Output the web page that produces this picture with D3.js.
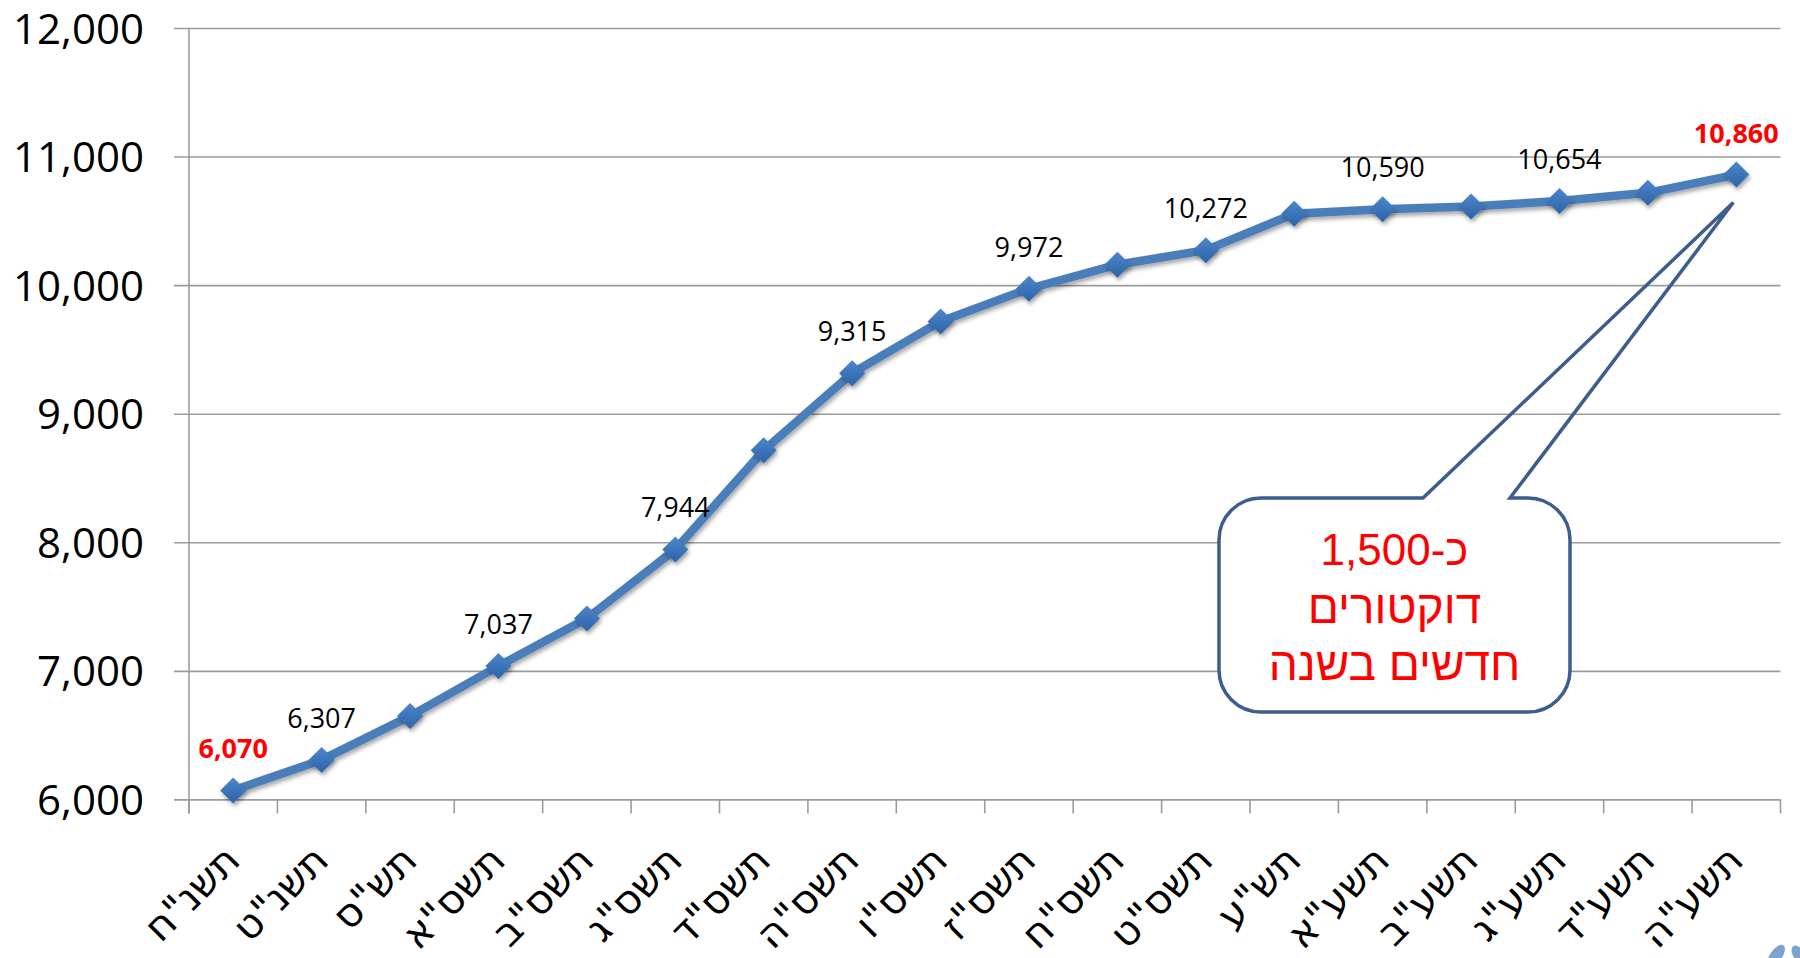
<!DOCTYPE html>
<html><head><meta charset="utf-8">
<script src="https://cdn.jsdelivr.net/npm/d3@7"></script>
<style>
html,body{margin:0;padding:0;background:#fff;}
svg{display:block;}
</style></head>
<body>
<svg id="chart" width="1800" height="958"></svg>
<script>
// ---- data ----
const categories = ['תשנ"ח','תשנ"ט','תש"ס','תשס"א','תשס"ב','תשס"ג','תשס"ד','תשס"ה','תשס"ו','תשס"ז','תשס"ח','תשס"ט','תש"ע','תשע"א','תשע"ב','תשע"ג','תשע"ד','תשע"ה'];
const values = [6070, 6307, 6648, 7037, 7407, 7944, 8715, 9315, 9718, 9972, 10159, 10272, 10555, 10590, 10611, 10654, 10718, 10860];
const labeledIdx = [0, 1, 3, 5, 7, 9, 11, 13, 15, 17];
const highlightIdx = [0, 17];
const yTicks = [6000, 7000, 8000, 9000, 10000, 11000, 12000];
const calloutLines = ['כ-1,500', 'דוקטורים', 'חדשים בשנה'];

(function () {
// ---- layout ----
const svg = d3.select('#chart');
const plotLeft = 189, plotRight = 1780.5, plotTop = 28, plotBottom = 799.4;
const x = d3.scaleBand().domain(categories).range([plotLeft, plotRight]).paddingInner(0).paddingOuter(0);
const y = d3.scaleLinear().domain([6000, 12000]).range([plotBottom, plotTop]);
const cx = d => x(d) + x.bandwidth() / 2;
const gridColor = '#9b9b9b';

const defs = svg.append('defs');
const grad = defs.append('linearGradient').attr('id', 'mk').attr('x1', 0).attr('y1', 0).attr('x2', 0).attr('y2', 1);
grad.append('stop').attr('offset', '0%').attr('stop-color', '#4d86cc');
grad.append('stop').attr('offset', '100%').attr('stop-color', '#2d63a8');
const sh = defs.append('filter').attr('id', 'sh').attr('x', '-50%').attr('y', '-50%').attr('width', '200%').attr('height', '200%');
sh.append('feDropShadow').attr('dx', 1.5).attr('dy', 3).attr('stdDeviation', 2).attr('flood-color', '#000').attr('flood-opacity', 0.35);

// gridlines + y labels
const yAxisG = svg.append('g').attr('transform', `translate(${plotLeft},0)`)
  .call(d3.axisLeft(y).tickValues(yTicks).tickSize(15).tickPadding(30).tickFormat(d3.format(',')));
yAxisG.select('.domain').remove();
yAxisG.selectAll('.tick line').attr('stroke', gridColor).attr('stroke-width', 1.6)
  .attr('x1', -15).attr('x2', plotRight - plotLeft);
yAxisG.selectAll('.tick text')
  .attr('fill', '#000').attr('font-family', '"Open Sans", sans-serif').attr('font-size', 42).attr('dy', '0.36em');

// y axis line
svg.append('line').attr('x1', plotLeft).attr('x2', plotLeft).attr('y1', y(12000)).attr('y2', plotBottom + 14)
  .attr('stroke', gridColor).attr('stroke-width', 1.6);

// x tick marks at band boundaries
const bounds = categories.map(c => x(c)).concat([x(categories[categories.length - 1]) + x.bandwidth()]);
svg.append('g').selectAll('line').data(bounds).join('line')
  .attr('x1', d => d).attr('x2', d => d).attr('y1', plotBottom).attr('y2', plotBottom + 14)
  .attr('stroke', gridColor).attr('stroke-width', 1.6);

// x labels
svg.append('g').selectAll('text').data(categories).join('text')
  .attr('transform', d => `translate(${cx(d) + 9},${plotBottom + 63}) rotate(-45)`)
  .attr('text-anchor', 'end')
  .attr('font-family', '"DejaVu Sans", sans-serif').attr('font-size', 40).attr('fill', '#000')
  .text(d => d);

// line
const line = d3.line().x((d, i) => cx(categories[i])).y(d => y(d));
svg.append('path').datum(values).attr('d', line)
  .attr('fill', 'none').attr('stroke', '#4a7ebb').attr('stroke-width', 8.5).attr('stroke-linejoin', 'round')
  .attr('filter', 'url(#sh)');

// markers
svg.append('g').selectAll('path').data(values).join('path')
  .attr('transform', (d, i) => `translate(${cx(categories[i])},${y(d)})`)
  .attr('d', 'M0,-13L13,0L0,13L-13,0Z')
  .attr('fill', 'url(#mk)').attr('filter', 'url(#sh)');

// data labels
svg.append('g').selectAll('text').data(labeledIdx).join('text')
  .attr('x', i => cx(categories[i])).attr('y', i => y(values[i]) - 32)
  .attr('text-anchor', 'middle')
  .attr('font-family', '"Open Sans", sans-serif').attr('font-size', 27)
  .attr('font-weight', i => highlightIdx.includes(i) ? 'bold' : 'normal')
  .attr('fill', i => highlightIdx.includes(i) ? '#ff0000' : '#000')
  .text(i => d3.format(',')(values[i]));

// callout
const last = values.length - 1;
const tipX = cx(categories[last]) - 3, tipY = y(values[last]) + 28;
const bx0 = 1219, bx1 = 1570, by0 = 498, by1 = 712, r = 42;
const p1 = 1423, p2 = 1510;
svg.append('rect').attr('x', bx0).attr('y', by0).attr('width', bx1 - bx0).attr('height', by1 - by0)
  .attr('rx', r).attr('fill', '#fff');
const cp = d3.path();
cp.moveTo(p1, by0); cp.lineTo(tipX, tipY); cp.lineTo(p2, by0);
cp.lineTo(bx1 - r, by0); cp.arcTo(bx1, by0, bx1, by0 + r, r);
cp.lineTo(bx1, by1 - r); cp.arcTo(bx1, by1, bx1 - r, by1, r);
cp.lineTo(bx0 + r, by1); cp.arcTo(bx0, by1, bx0, by1 - r, r);
cp.lineTo(bx0, by0 + r); cp.arcTo(bx0, by0, bx0 + r, by0, r);
cp.closePath();
svg.append('path').attr('d', cp.toString()).attr('fill', 'none')
  .attr('stroke', '#3b5e8c').attr('stroke-width', 3.5).attr('stroke-linejoin', 'miter');

const bcx = (bx0 + bx1) / 2;
const lineY = [565, 623, 680];
const lineSize = [44, 46, 46];
svg.append('g').selectAll('text').data(calloutLines).join('text')
  .attr('x', bcx).attr('y', (d, i) => lineY[i])
  .attr('text-anchor', 'middle')
  .attr('font-family', '"Liberation Sans", Arial, sans-serif')
  .attr('font-size', (d, i) => lineSize[i]).attr('fill', '#ff0000')
  .text(d => d);

// logo remnant bottom-right
svg.append('ellipse').attr('cx', 1776).attr('cy', 956).attr('rx', 6).attr('ry', 13)
  .attr('transform', 'rotate(35,1776,956)').attr('fill', '#7fa3cf');
svg.append('ellipse').attr('cx', 1800).attr('cy', 956).attr('rx', 6).attr('ry', 12)
  .attr('transform', 'rotate(-35,1800,956)').attr('fill', '#7fa3cf');
})();
</script>
</body></html>
